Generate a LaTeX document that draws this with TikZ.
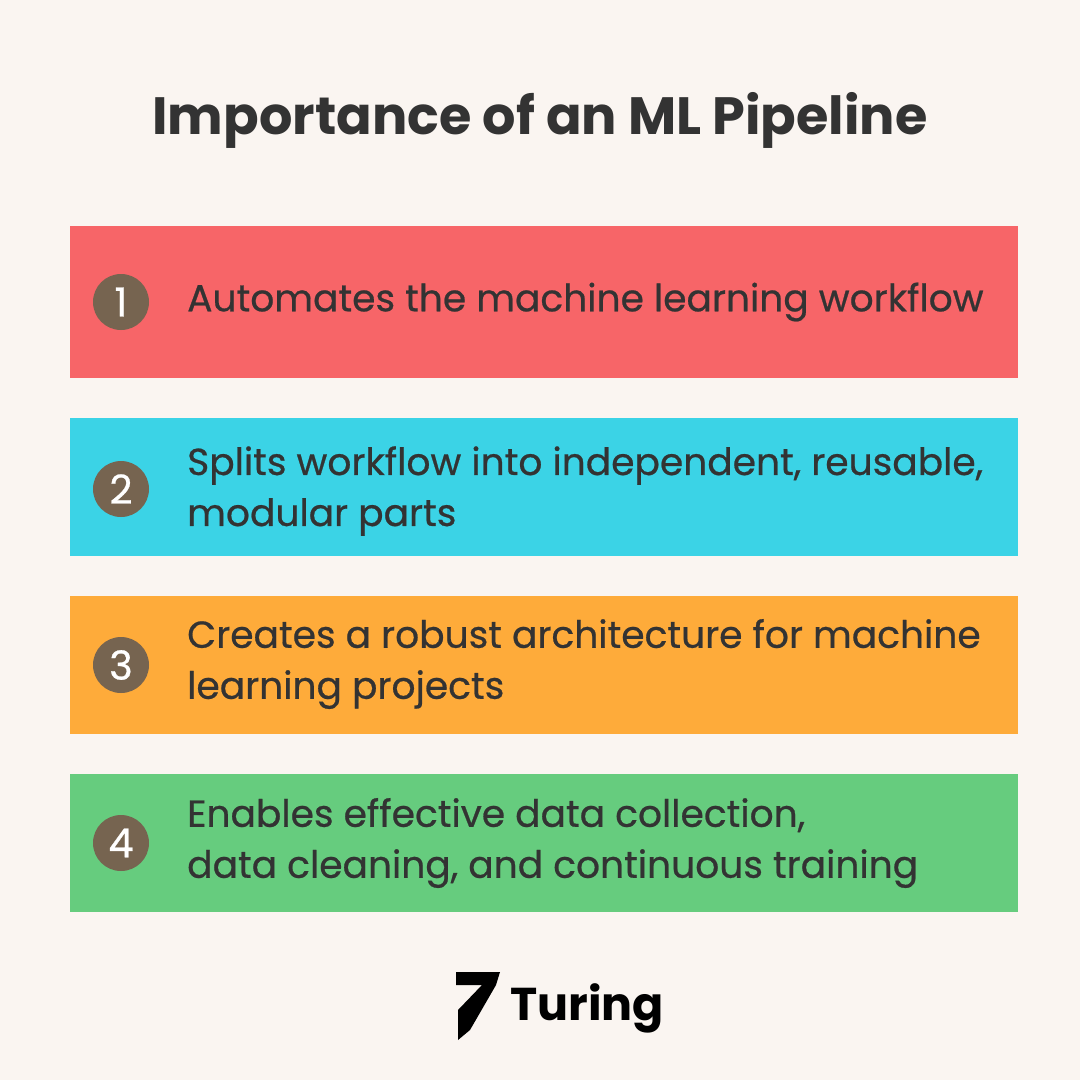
\documentclass[tikz,border=0pt]{standalone}
\usepackage{fontspec}
\setmainfont{Poppins}
\newfontfamily\pmed[FakeBold=0.6]{Poppins}
\definecolor{bg}{HTML}{FAF5F1}
\definecolor{c1}{HTML}{F76568}
\definecolor{c2}{HTML}{3BD3E6}
\definecolor{c3}{HTML}{FEAB3A}
\definecolor{c4}{HTML}{66CC7E}
\definecolor{num}{HTML}{766450}
\definecolor{txt}{HTML}{333333}
\begin{document}
\begin{tikzpicture}[x=1pt,y=-1pt,
  band/.style={anchor=north west,inner sep=0pt,minimum width=948pt},
  numc/.style={circle,fill=num,minimum size=56pt,inner sep=0pt,text=white,font=\pmed\fontsize{40}{44}\selectfont},
  lbl/.style={anchor=west,inner sep=0pt,text=txt,align=left,font=\pmed\fontsize{37.6}{51}\selectfont}]
\fill[bg] (0,0) rectangle (1080,1080);
\useasboundingbox (0,0) rectangle (1080,1080);
\node[text=txt,font=\fontsize{52.5}{60}\selectfont\bfseries] (title) at (540,120) {Importance of an ML Pipeline};
\node[band,fill=c1,minimum height=152pt] (b1) at (70,226) {};
\node[band,fill=c2,minimum height=138pt] (b2) at (70,418) {};
\node[band,fill=c3,minimum height=138pt] (b3) at (70,596) {};
\node[band,fill=c4,minimum height=138pt] (b4) at (70,774) {};
\node[numc] (n1) at (121,302) {1};
\node[numc] (n2) at (121,489) {2};
\node[numc] (n3) at (121,665) {3};
\node[numc] (n4) at (121,843) {4};
\node[lbl] (t1) at (187,302) {Automates the machine learning workflow};
\node[lbl] (t2) at (187,491) {Splits workflow into independent, reusable,\\modular parts};
\node[lbl] (t3) at (187,664) {Creates a robust architecture for machine\\learning projects};
\node[lbl] (t4) at (187,843) {Enables effective data collection,\\data cleaning, and continuous training};
\fill[black] (456,972) -- (500,972) -- (496,985) -- (470,1030) -- (458,1040) -- (458,1010) -- (482,985) -- (456,985) -- cycle;
\node[anchor=west,inner sep=0pt,font=\fontsize{46}{50}\selectfont\bfseries] (logo) at (510,1008) {Turing};
\end{tikzpicture}
\end{document}
